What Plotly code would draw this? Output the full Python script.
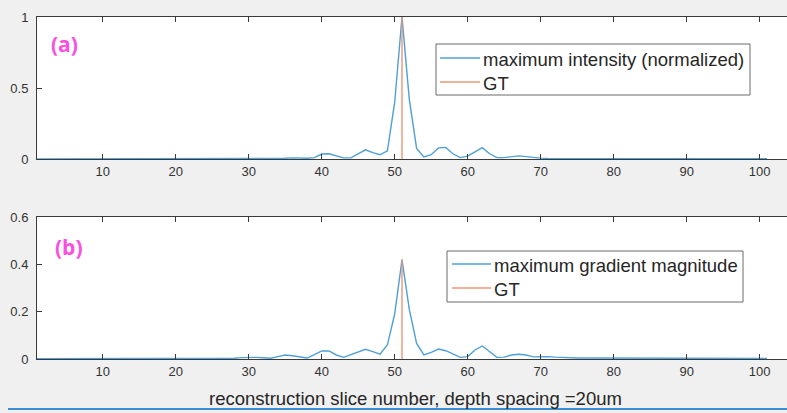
import plotly.graph_objects as go

slices = list(range(1, 102))

intensity = (
    [0.0] * 30
    + [0.002, 0.002, 0.002, 0.002, 0.005, 0.008, 0.004, 0.005, 0.01, 0.035,
       0.037, 0.02, 0.008, 0.008, 0.035, 0.065, 0.045, 0.03, 0.058, 0.40,
       1.0, 0.42, 0.075, 0.015, 0.03, 0.078, 0.082, 0.035, 0.01, 0.02,
       0.05, 0.08, 0.037, 0.01, 0.01, 0.017, 0.022, 0.017, 0.01, 0.006,
       0.004, 0.004, 0.004, 0.004, 0.004, 0.003, 0.003, 0.003, 0.003, 0.003]
    + [0.002] * 21
)

gradient = (
    [0.001] * 24
    + [0.002, 0.002, 0.004, 0.003, 0.006, 0.008, 0.007, 0.005, 0.003, 0.01,
       0.017, 0.014, 0.009, 0.004, 0.018, 0.034, 0.034, 0.017, 0.007, 0.018,
       0.032, 0.041, 0.031, 0.02, 0.06, 0.19, 0.42, 0.21, 0.066, 0.017,
       0.028, 0.042, 0.035, 0.021, 0.007, 0.01, 0.038, 0.055, 0.031, 0.007,
       0.008, 0.017, 0.02, 0.017, 0.009, 0.01, 0.01, 0.008, 0.006, 0.005]
    + [0.004] * 11
    + [0.002] * 16
)

gt_x = [51, 51]
gt_top = [0, 1.0]
gt_bottom = [0, 0.42]

x_ticks = [10, 20, 30, 40, 50, 60, 70, 80, 90, 100]
top_yticks = [0, 0.5, 1]
top_ytext = ["0", "0.5", "1"]
bot_yticks = [0, 0.2, 0.4, 0.6]
bot_ytext = ["0", "0.2", "0.4", "0.6"]

top_names = ["maximum intensity (normalized)", "GT"]
bot_names = ["maximum gradient magnitude", "GT"]

BLUE = "#4f9fd8"
ORANGE = "#ec9676"
AXC = "#3a3a3a"
FONT = "Liberation Sans, Arial, sans-serif"

W, H = 787, 413

fig = go.Figure()
fig.add_trace(go.Scatter(x=slices, y=intensity, mode="lines",
                         line=dict(color=BLUE, width=1.4), name=top_names[0],
                         xaxis="x", yaxis="y"))
fig.add_trace(go.Scatter(x=gt_x, y=gt_top, mode="lines",
                         line=dict(color=ORANGE, width=1.4), name=top_names[1],
                         xaxis="x", yaxis="y"))
fig.add_trace(go.Scatter(x=slices, y=gradient, mode="lines",
                         line=dict(color=BLUE, width=1.4), name=bot_names[0],
                         xaxis="x2", yaxis="y2"))
fig.add_trace(go.Scatter(x=gt_x, y=gt_bottom, mode="lines",
                         line=dict(color=ORANGE, width=1.4), name=bot_names[1],
                         xaxis="x2", yaxis="y2"))

xr = [1, 1 + (W - 37) / 7.3]

common_x = dict(range=xr, tickvals=x_ticks, ticks="inside", ticklen=5,
                tickcolor=AXC, showline=True, linecolor=AXC, linewidth=1,
                mirror="ticks", showgrid=False, zeroline=False,
                automargin=False,
                tickfont=dict(family=FONT, size=13, color="#333333"))
common_y = dict(ticks="inside", ticklen=5, tickcolor=AXC, showline=True,
                linecolor=AXC, linewidth=1, showgrid=False, zeroline=False,
                automargin=False, ticklabelstandoff=5,
                tickfont=dict(family=FONT, size=13, color="#333333"))


def py(p):
    return 1 - p / H


fig.update_layout(
    width=W, height=H,
    margin=dict(l=0, r=0, t=0, b=0, autoexpand=False),
    paper_bgcolor="#f0f0f0",
    plot_bgcolor="white",
    showlegend=False,
    xaxis=dict(domain=[37 / W, 1], anchor="y", **common_x),
    yaxis=dict(domain=[py(159), py(17)], anchor="x", range=[0, 1],
               tickvals=top_yticks, ticktext=top_ytext, **common_y),
    xaxis2=dict(domain=[37 / W, 1], anchor="y2", **common_x),
    yaxis2=dict(domain=[py(359), py(217)], anchor="x2", range=[0, 0.6],
                tickvals=bot_yticks, ticktext=bot_ytext, **common_y),
)


def legend_box(x0, x1, y0, y1, names, rows, lx0, lx1, tx):
    fig.add_shape(type="rect", xref="paper", yref="paper",
                  x0=x0 / W, x1=x1 / W, y0=py(y1), y1=py(y0),
                  fillcolor="white", line=dict(color="#6a6a6a", width=1))
    for name, row, col in zip(names, rows, [BLUE, ORANGE]):
        fig.add_shape(type="line", xref="paper", yref="paper",
                      x0=lx0 / W, x1=lx1 / W, y0=py(row), y1=py(row),
                      line=dict(color=col, width=1.4))
        fig.add_annotation(text=name, xref="paper", yref="paper",
                           x=tx / W, y=py(row + 1.5), xanchor="left",
                           yanchor="middle", showarrow=False,
                           font=dict(family=FONT, size=18.5, color="#262626"))


legend_box(436, 750, 44, 95, top_names, [58, 82], 440, 480, 481)
legend_box(447, 743, 251, 302, bot_names, [264, 288], 452, 491, 492)

fig.add_annotation(text="reconstruction slice number, depth spacing =20um",
                   xref="paper", yref="paper", x=415 / W, y=py(398),
                   xanchor="center", yanchor="middle", showarrow=False,
                   font=dict(family=FONT, size=18.5, color="#262626"))

fig.add_annotation(text="<b>(a)</b>", xref="paper", yref="paper",
                   x=49 / W, y=py(44), xanchor="left", yanchor="middle",
                   showarrow=False,
                   font=dict(family="Open Sans, sans-serif", size=21, color="#fb4fe0"))
fig.add_annotation(text="<b>(b)</b>", xref="paper", yref="paper",
                   x=53 / W, y=py(247), xanchor="left", yanchor="middle",
                   showarrow=False,
                   font=dict(family="Open Sans, sans-serif", size=21, color="#fb4fe0"))

fig.add_shape(type="line", xref="paper", yref="paper",
              x0=8 / W, x1=1, y0=py(409), y1=py(409),
              line=dict(color="#3c8fd6", width=2))

fig.write_html("out.html")
